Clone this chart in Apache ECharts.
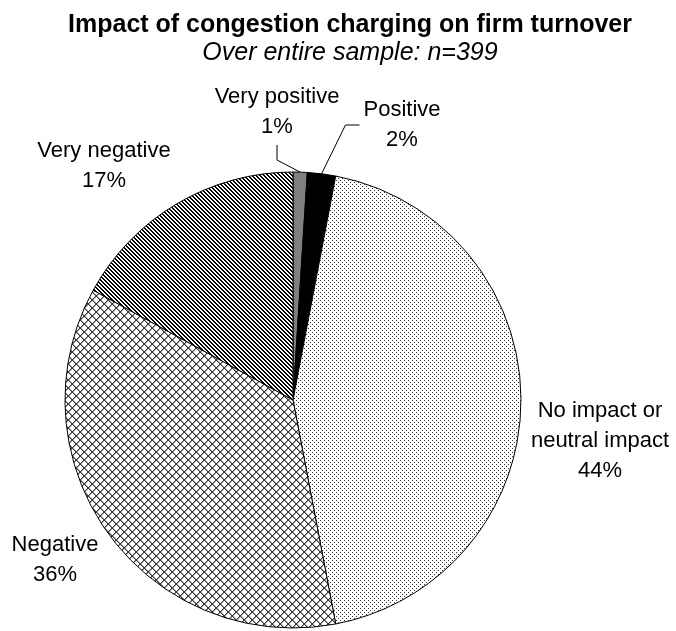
<!DOCTYPE html>
<html>
<head>
<meta charset="utf-8">
<script src="https://cdn.jsdelivr.net/npm/echarts@6/dist/echarts.min.js"></script>
<style>
  html, body { margin: 0; padding: 0; background: #fff; }
  #chart { width: 676px; height: 631px; }
</style>
</head>
<body>
<div id="chart"></div>
<script>
// Survey responses, clockwise from 12 o'clock
const categories = ['Very positive', 'Positive', 'No impact or\nneutral impact', 'Negative', 'Very negative'];
const shares = [1, 2, 44, 36, 17];
const titleText = 'Impact of congestion charging on firm turnover';
const subtitleText = 'Over entire sample: n=399';

const fontFamily = '"Liberation Sans", Arial, Helvetica, sans-serif';

// Small repeating tiles used as hatch fills
function makeTile(w, h, draw) {
  const c = document.createElement('canvas');
  c.width = w; c.height = h;
  const ctx = c.getContext('2d');
  ctx.fillStyle = '#fff';
  ctx.fillRect(0, 0, w, h);
  draw(ctx);
  return c;
}

const dotTile = makeTile(4, 4, ctx => {
  ctx.fillStyle = '#333';
  ctx.fillRect(0, 0, 1, 1);
  ctx.fillRect(2, 2, 1, 1);
});

const stripeTile = makeTile(4, 4, ctx => {
  ctx.fillStyle = '#000';
  for (let y = 0; y < 4; y++) {
    for (let x = 0; x < 4; x++) {
      if (((x - y) % 4 + 4) % 4 < 2) ctx.fillRect(x, y, 1, 1);
    }
  }
});

const crossTile = makeTile(8, 8, ctx => {
  for (let y = 0; y < 8; y++) {
    for (let x = 0; x < 8; x++) {
      if (x === y || x + y === 7) {
        ctx.fillStyle = '#3a3a3a';
        ctx.fillRect(x, y, 1, 1);
      } else if (x === y + 1 || x + y === 8) {
        ctx.fillStyle = '#9a9a9a';
        ctx.fillRect(x, y, 1, 1);
      }
    }
  }
});

const sliceFills = [
  '#808080',
  '#000000',
  { image: dotTile, repeat: 'repeat' },
  { image: crossTile, repeat: 'repeat' },
  { image: stripeTile, repeat: 'repeat' }
];

// Where each label block sits, and how its leader line attaches
const labelPlacement = [
  { x: 277, y: 112, line: 'below' },
  { x: 402, y: 125, line: 'left' },
  { x: 600, y: 441 },
  { x: 55, y: 560 },
  { x: 104, y: 166 }
];

const chart = echarts.init(document.getElementById('chart'), null, { renderer: 'canvas' });

chart.setOption({
  animation: false,
  backgroundColor: '#fff',
  title: [
    {
      text: titleText,
      left: 345,
      top: 8,
      textAlign: 'center',
      textStyle: { fontSize: 25, fontWeight: 'bold', fontFamily, color: '#000' }
    },
    {
      text: subtitleText,
      left: 345,
      top: 36,
      textAlign: 'center',
      textStyle: { fontSize: 25, fontWeight: 'normal', fontStyle: 'italic', fontFamily, color: '#000' }
    }
  ],
  series: [{
    type: 'pie',
    silent: true,
    center: [293, 400],
    radius: 228,
    startAngle: 90,
    clockwise: true,
    avoidLabelOverlap: false,
    itemStyle: { borderColor: '#000', borderWidth: 1 },
    label: {
      show: true,
      position: 'outside',
      formatter: p => p.name + '\n' + p.value + '%',
      fontFamily,
      fontSize: 22,
      lineHeight: 30,
      color: '#000'
    },
    labelLine: { show: true, length: 10, length2: 10, lineStyle: { color: '#000', width: 1 } },
    labelLayout: params => {
      const place = labelPlacement[params.dataIndex];
      const w = params.labelRect.width;
      const h = params.labelRect.height;
      const out = { x: place.x, y: place.y, align: 'center', verticalAlign: 'middle' };
      const pts = params.labelLinePoints;
      if (pts && place.line === 'below') {
        const endY = place.y + h / 2 + 3;
        out.labelLinePoints = [pts[0], [place.x, endY + 15], [place.x, endY]];
      } else if (pts && place.line === 'left') {
        const endX = place.x - w / 2 - 4;
        out.labelLinePoints = [pts[0], [endX - 14, place.y], [endX, place.y]];
      }
      return out;
    },
    data: categories.map((name, i) => ({
      name,
      value: shares[i],
      itemStyle: { color: sliceFills[i] },
      labelLine: { show: !!labelPlacement[i].line }
    }))
  }]
});
</script>
</body>
</html>
